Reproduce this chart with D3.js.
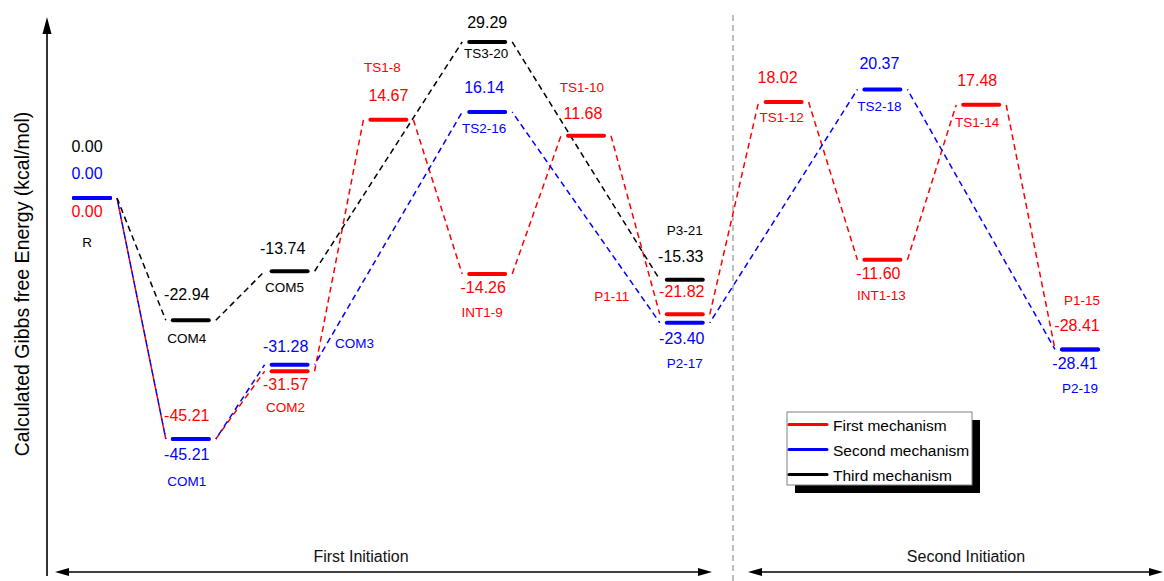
<!DOCTYPE html>
<html><head><meta charset="utf-8">
<script src="https://cdn.jsdelivr.net/npm/d3@7"></script>
<style>
body{margin:0;background:#fff}
svg{display:block;font-family:"Liberation Sans",Arial,sans-serif}
</style>
</head><body>
<svg id="chart" width="1164" height="581"></svg>
<script>
// Reaction-path step index, Gibbs free energy (kcal/mol) and species name per mechanism
const firstSteps = [0, 1, 2, 3, 4, 5, 6, 7, 8, 9, 10];
const firstEnergies = [0.00, -45.21, -31.57, 14.67, -14.26, 11.68, -21.82, 18.02, -11.60, 17.48, -28.41];
const firstNames = ["R", "COM1", "COM2", "TS1-8", "INT1-9", "TS1-10", "P1-11", "TS1-12", "INT1-13", "TS1-14", "P1-15"];

const secondSteps = [0, 1, 2, 4, 6, 8, 10];
const secondEnergies = [0.00, -45.21, -31.28, 16.14, -23.40, 20.37, -28.41];
const secondNames = ["R", "COM1", "COM3", "TS2-16", "P2-17", "TS2-18", "P2-19"];

const thirdSteps = [0, 1, 2, 4, 6];
const thirdEnergies = [0.00, -22.94, -13.74, 29.29, -15.33];
const thirdNames = ["R", "COM4", "COM5", "TS3-20", "P3-21"];

const mechanismNames = ["First mechanism", "Second mechanism", "Third mechanism"];
const sectionNames = ["First Initiation", "Second Initiation"];
const yAxisTitle = "Calculated Gibbs free Energy (kcal/mol)";

// Label placement: [value dx, value dy, name dx, name dy] relative to the level bar (null = not shown)
const firstLabelPos = [
  [-5, 19, null, null], [-4, -18, null, null], [-4, 19, -4, 41], [0, -19, -6, -48],
  [-4, 19, -5, 43], [-3, -17, -4, -44], [-3, -17, -73, -13], [-6, -19, -2, 20],
  [-4, 19, -1, 40], [-4, -19, -4, 22], [-3, -18, 2, -44]
];
const secondLabelPos = [
  [-5, -19, null, null], [-4, 21, -4, 47], [-4, -13, 65, -17], [-3, -19, -3, 21],
  [-3, 21, 0, 45], [-3, -20, -3, 22], [-5, 20, 0, 44]
];
const thirdLabelPos = [
  [-5, -46, -5, 49], [-4, -20, -4, 23], [-7, -17, -5, 21], [0, -14, -1, 16], [-4, -18, 0, -45]
];

const mechanisms = [
  {steps: firstSteps, energies: firstEnergies, names: firstNames, pos: firstLabelPos, color: "#ff0000", dashOffset: 0},
  {steps: thirdSteps, energies: thirdEnergies, names: thirdNames, pos: thirdLabelPos, color: "#000000", dashOffset: 0},
  {steps: secondSteps, energies: secondEnergies, names: secondNames, pos: secondLabelPos, color: "#0000ff", dashOffset: 5}
];

const svg = d3.select("#chart");
const x = d3.scaleLinear().domain([0, 10]).range([72, 1060]);
const y = d3.scaleLinear().domain([-70, 35]).range([571.1, 11.5]);
const barW = 40;

// Build level records; nearly coincident (but different) levels in one column are spread apart
const levels = [];
mechanisms.forEach(m => {
  m.levels = m.steps.map((s, i) => {
    const L = {mech: m, step: s, energy: m.energies[i], name: m.names[i], pos: m.pos[i], yy: y(m.energies[i])};
    levels.push(L);
    return L;
  });
});
d3.groups(levels, d => d.step).forEach(([step, group]) => {
  group.sort((a, b) => a.yy - b.yy);
  for (let i = 1; i < group.length; i++) {
    const gap = group[i].yy - group[i - 1].yy;
    if (group[i].energy !== group[i - 1].energy && gap < 5) group[i].yy = group[i - 1].yy + 6.5;
  }
});

// Divider between the two initiation stages
svg.append("line")
  .attr("x1", 733).attr("x2", 733).attr("y1", 15).attr("y2", 581)
  .attr("stroke", "#a8a8a8").attr("stroke-width", 1.5).attr("stroke-dasharray", "6,4");

// Dashed connectors between consecutive levels
mechanisms.forEach(m => {
  const segs = d3.pairs(m.levels);
  svg.append("g").selectAll("line").data(segs).join("line")
    .attr("x1", d => x(d[0].step) + barW + 5).attr("y1", d => d[0].yy)
    .attr("x2", d => x(d[1].step) - 5).attr("y2", d => d[1].yy)
    .attr("stroke", m.color).attr("stroke-width", 1.5)
    .attr("stroke-dasharray", "6,4").attr("stroke-dashoffset", m.dashOffset);
});

// Energy level bars
mechanisms.forEach(m => {
  svg.append("g").selectAll("line").data(m.levels).join("line")
    .attr("x1", d => x(d.step) + 2).attr("x2", d => x(d.step) + barW - 2)
    .attr("y1", d => d.yy).attr("y2", d => d.yy)
    .attr("stroke", m.color).attr("stroke-width", 4).attr("stroke-linecap", "round");
});

// Energy values and species names
mechanisms.forEach(m => {
  const g = svg.append("g").attr("fill", m.color).attr("text-anchor", "middle");
  m.levels.forEach(d => {
    const cx = x(d.step) + barW / 2;
    const p = d.pos;
    if (p[0] !== null) {
      g.append("text").attr("x", cx + p[0]).attr("y", d.yy + p[1])
        .attr("font-size", 16).text(d.energy.toFixed(2));
    }
    if (p[2] !== null) {
      g.append("text").attr("x", cx + p[2]).attr("y", d.yy + p[3])
        .attr("font-size", 13.5).text(d.name);
    }
  });
});

// Vertical energy axis with arrow head
svg.append("line").attr("x1", 47).attr("x2", 47).attr("y1", 30).attr("y2", 576)
  .attr("stroke", "#000").attr("stroke-width", 1.6);
svg.append("path").attr("d", "M47,17 L42.5,34 L51.5,34 Z").attr("fill", "#000");
svg.append("text")
  .attr("transform", "translate(28.5,284) rotate(-90)")
  .attr("text-anchor", "middle").attr("font-size", 19.5).attr("fill", "#000")
  .text(yAxisTitle);

// Stage arrows along the bottom
const stages = [
  {x1: 55, x2: 712, label: sectionNames[0], lx: 361},
  {x1: 748, x2: 1163, label: sectionNames[1], lx: 966}
];
const ay = 572;
stages.forEach(s => {
  svg.append("line").attr("x1", s.x1 + 8).attr("x2", s.x2 - 8).attr("y1", ay).attr("y2", ay)
    .attr("stroke", "#000").attr("stroke-width", 1.4);
  svg.append("path").attr("d", `M${s.x1},${ay} L${s.x1 + 14},${ay - 4} L${s.x1 + 14},${ay + 4} Z`).attr("fill", "#000");
  svg.append("path").attr("d", `M${s.x2},${ay} L${s.x2 - 14},${ay - 4} L${s.x2 - 14},${ay + 4} Z`).attr("fill", "#000");
  svg.append("text").attr("x", s.lx).attr("y", 562).attr("text-anchor", "middle")
    .attr("font-size", 16).attr("fill", "#111").text(s.label);
});

// Legend with drop shadow
const legend = svg.append("g").attr("transform", "translate(787,412)");
legend.append("rect").attr("x", 8).attr("y", 8).attr("width", 185).attr("height", 73).attr("fill", "#000");
legend.append("rect").attr("x", 0).attr("y", 0).attr("width", 185).attr("height", 73)
  .attr("fill", "#fff").attr("stroke", "#808080").attr("stroke-width", 1);
const legendColors = ["#ff0000", "#0000ff", "#000000"];
const ly = d3.scalePoint().domain(mechanismNames).range([12.5, 62.5]);
mechanismNames.forEach((name, i) => {
  legend.append("line").attr("x1", 2).attr("x2", 40).attr("y1", ly(name)).attr("y2", ly(name))
    .attr("stroke", legendColors[i]).attr("stroke-width", 3).attr("stroke-linecap", "round");
  legend.append("text").attr("x", 46).attr("y", ly(name) + 6).attr("font-size", 15.5)
    .attr("fill", "#000").text(name);
});
</script>
</body></html>
